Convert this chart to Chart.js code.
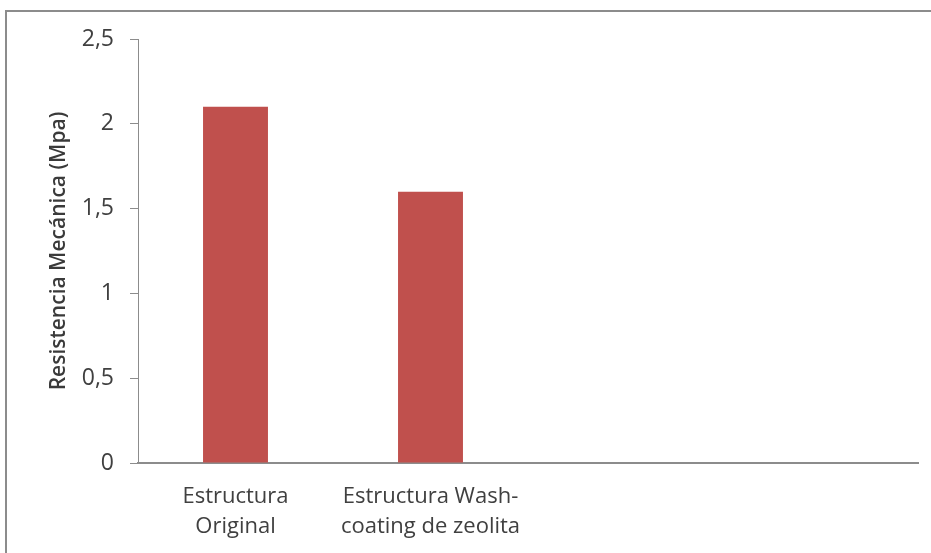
<!DOCTYPE html>
<html>
<head>
<meta charset="utf-8">
<script src="https://cdn.jsdelivr.net/npm/chart.js@4/dist/chart.umd.min.js"></script>
<style>
html,body{margin:0;padding:0;background:#fff;}
#wrap{width:931px;height:553px;position:relative;}
</style>
</head>
<body>
<div id="wrap"><canvas id="c" width="931" height="553"></canvas></div>
<script>
const categories = [["Estructura", "Original"], ["Estructura Wash-", "coating de zeolita"], "", ""];
const resistencia = [2.1, 1.6, null, null];
const yTicks = [0, 0.5, 1, 1.5, 2, 2.5];
const yTitle = "Resistencia Mecánica (Mpa)";

const frame = {
  id: 'frame',
  beforeDraw(chart) {
    const ctx = chart.ctx;
    ctx.save();
    ctx.fillStyle = '#fff';
    ctx.fillRect(0, 0, chart.width, chart.height);
    ctx.strokeStyle = '#8c8c8c';
    ctx.lineWidth = 2;
    ctx.strokeRect(6, 11, chart.width + 20, chart.height + 20);
    ctx.restore();
  }
};

const FONT = "'Open Sans', Lato, sans-serif";

new Chart(document.getElementById('c'), {
  type: 'bar',
  data: {
    labels: categories,
    datasets: [{
      data: resistencia,
      backgroundColor: '#C0504D',
      borderWidth: 0,
      barPercentage: 1,
      categoryPercentage: 0.333
    }]
  },
  options: {
    responsive: false,
    animation: false,
    layout: { padding: { top: 39, right: 13, bottom: 0, left: 0 } },
    plugins: { legend: { display: false }, tooltip: { enabled: false } },
    scales: {
      x: {
        grid: { display: false, drawTicks: false },
        border: { color: '#8c8c8c', width: 2 },
        ticks: {
          color: '#404040',
          font: { family: FONT, size: 22, lineHeight: 1.36 },
          padding: 19,
          maxRotation: 0,
          autoSkip: false
        },
        afterFit(scale) { scale.height = 90; }
      },
      y: {
        min: 0,
        max: 2.5,
        afterBuildTicks(scale) { scale.ticks = yTicks.map(v => ({ value: v })); },
        grid: { display: true, drawOnChartArea: false, drawTicks: true, tickLength: 8, color: '#8c8c8c' },
        border: { color: '#8c8c8c', width: 1 },
        ticks: {
          color: '#404040',
          font: { family: FONT, size: 23 },
          padding: 16,
          callback: v => String(v).replace('.', ',')
        },
        title: {
          display: true,
          text: yTitle,
          color: '#3a3a3a',
          font: { family: FONT, size: 21, weight: '600' },
          padding: { top: 46, bottom: 0 }
        },
        afterFit(scale) { scale.width = 138; }
      }
    }
  },
  plugins: [frame]
});
</script>
</body>
</html>
